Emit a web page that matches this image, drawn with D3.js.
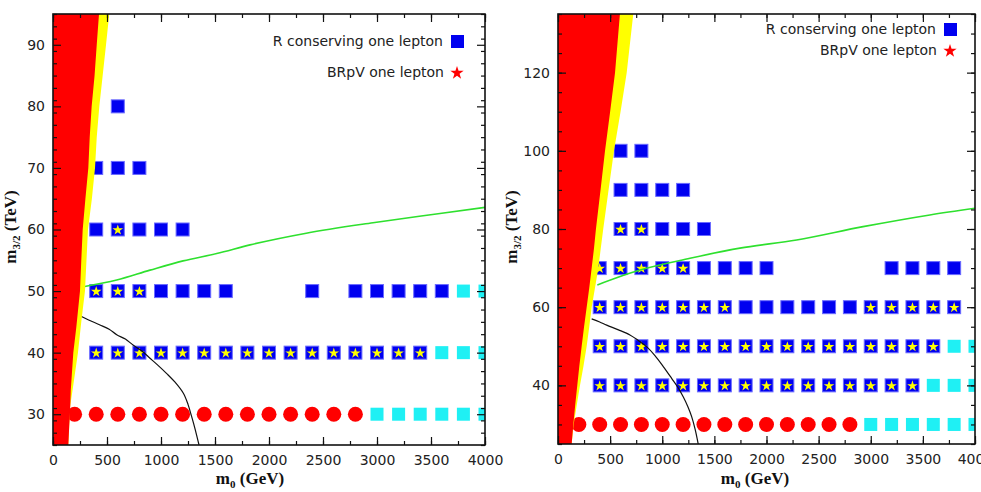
<!DOCTYPE html>
<html>
<head>
<meta charset="utf-8">
<script src="https://cdn.jsdelivr.net/npm/d3@7"></script>
<style>
  body { margin: 0; background: #fff; }
  svg { display: block; }
</style>
</head>
<body>
<svg width="981" height="492"></svg>
<script>
// ---- data: each row is [m3/2 (TeV), list of m0 (GeV)] ----
const xTicks = [0, 500, 1000, 1500, 2000, 2500, 3000, 3500, 4000];

// left panel
const leftYTicks = [30, 40, 50, 60, 70, 80, 90];
const leftBlue = [
    [80, [600]],
    [70, [400, 600, 800]],
    [60, [400, 800, 1000, 1200]],
    [50, [1000, 1200, 1400, 1600, 2400, 2800, 3000, 3200, 3400, 3600]]
];
const leftStar = [
    [60, [600]],
    [50, [400, 600, 800]],
    [40, [400, 600, 800, 1000, 1200, 1400, 1600, 1800, 2000, 2200, 2400, 2600, 2800, 3000, 3200, 3400]]
];
const leftCyan = [
    [50, [3800, 4000]],
    [40, [3600, 3800, 4000]],
    [30, [3000, 3200, 3400, 3600, 3800, 4000]]
];
const leftRed = [
    [30, [200, 400, 600, 800, 1000, 1200, 1400, 1600, 1800, 2000, 2200, 2400, 2600, 2800]]
];
// [m0, m3/2] along the edges and curves
const leftRedEdge = [[142, 25], [150, 28], [157, 30], [165, 34], [188, 40], [215, 44], [250, 50], [262, 55], [275, 60], [300, 65], [327, 70], [340, 75], [358, 80], [385, 85], [405, 90], [426, 95]];
const leftYellowEdge = [[142, 25], [150, 28], [157, 31], [190, 35], [231, 40], [262, 45], [296, 50], [310, 55], [324, 60], [360, 65], [389, 70], [405, 75], [429, 80], [460, 85], [491, 90], [521, 95]];
const leftGreen = [[281, 50.7], [590, 51.8], [898, 53.4], [1204, 54.9], [1516, 56.1], [1824, 57.5], [2345, 59.4], [2963, 61.1], [3583, 62.6], [4000, 63.6]];
const leftBlack = [[259, 45.9], [330, 45.3], [435, 44.5], [520, 43.8], [590, 42.9], [670, 42.2], [744, 41.2], [820, 40.3], [898, 39.1], [975, 37.9], [1053, 36.6], [1130, 35.2], [1207, 33.4], [1250, 31.6], [1284, 29.6], [1320, 27.3], [1352, 25]];

// right panel
const rightYTicks = [40, 60, 80, 100, 120];
const rightBlue = [
    [100, [600, 800]],
    [90, [600, 800, 1000, 1200]],
    [80, [1000, 1200, 1400]],
    [70, [1400, 1600, 1800, 2000, 3200, 3400, 3600, 3800]],
    [60, [1800, 2000, 2200, 2400, 2600, 2800]]
];
const rightStar = [
    [80, [600, 800]],
    [70, [400, 600, 800, 1000, 1200]],
    [60, [400, 600, 800, 1000, 1200, 1400, 1600, 3000, 3200, 3400, 3600, 3800]],
    [50, [400, 600, 800, 1000, 1200, 1400, 1600, 1800, 2000, 2200, 2400, 2600, 2800, 3000, 3200, 3400, 3600]],
    [40, [400, 600, 800, 1000, 1200, 1400, 1600, 1800, 2000, 2200, 2400, 2600, 2800, 3000, 3200, 3400]]
];
const rightCyan = [
    [50, [3800, 4000]],
    [40, [3600, 3800, 4000]],
    [30, [3000, 3200, 3400, 3600, 3800, 4000]]
];
const rightRed = [
    [30, [200, 400, 600, 800, 1000, 1200, 1400, 1600, 1800, 2000, 2200, 2400, 2600, 2800]]
];
const rightRedEdge = [[131, 25], [147, 30], [165, 35], [185, 40], [205, 45], [227, 50], [250, 55], [275, 60], [300, 65], [323, 70], [345, 75], [364, 80], [408, 90], [451, 100], [500, 110], [547, 120], [594, 135]];
const rightYellowEdge = [[131, 25], [150, 30], [180, 35], [211, 40], [245, 45], [275, 50], [300, 55], [323, 60], [355, 65], [387, 70], [410, 75], [434, 80], [485, 90], [537, 100], [600, 110], [659, 120], [722, 135]];
const rightGreen = [[377, 65.7], [786, 69.5], [1266, 72.5], [1745, 75.1], [2289, 77.2], [2927, 80.6], [3567, 83.6], [4000, 85.3]];
const rightBlack = [[323, 57.0], [400, 56.2], [467, 55.4], [580, 54.2], [690, 52.9], [770, 51.5], [850, 49.9], [930, 47.6], [1010, 44.8], [1090, 41.8], [1150, 39.5], [1201, 37.1], [1245, 34.6], [1282, 32.0], [1315, 28.8], [1345, 25]];

// ---- drawing ----
const svg = d3.select("svg");
const defs = svg.append("defs");

const panels = [
    { id: "L", left: 53, right: 485, top: 14, bottom: 445, yDomain: [25, 95], yTicks: leftYTicks, yMinor: 2,
      blue: leftBlue, star: leftStar, cyan: leftCyan, red: leftRed,
      redEdge: leftRedEdge, yellowEdge: leftYellowEdge, green: leftGreen, black: leftBlack,
      legend: { x: 443, y1: 46, y2: 77 }, ylabX: 16, xlabX: 250 },
    { id: "R", left: 558, right: 975, top: 14, bottom: 444, yDomain: [25, 135], yTicks: rightYTicks, yMinor: 5,
      blue: rightBlue, star: rightStar, cyan: rightCyan, red: rightRed,
      redEdge: rightRedEdge, yellowEdge: rightYellowEdge, green: rightGreen, black: rightBlack,
      legend: { x: 936, y1: 34, y2: 55 }, ylabX: 517, xlabX: 755 }
];

const flat = rows => rows.flatMap(([m32, list]) => list.map(m0 => [m0, m32]));
const starSym = R => d3.symbol(d3.symbolStar, R * R / 0.8908130915292852)();

panels.forEach(drawPanel);

function drawPanel(p)
{
    const x = d3.scaleLinear().domain([0, 4000]).range([p.left, p.right]);
    const y = d3.scaleLinear().domain(p.yDomain).range([p.bottom, p.top]);
    const sq = 13;

    defs.append("clipPath").attr("id", "clip" + p.id)
        .append("rect")
        .attr("x", p.left).attr("y", p.top)
        .attr("width", p.right - p.left).attr("height", p.bottom - p.top);

    const plot = svg.append("g").attr("clip-path", `url(#clip${p.id})`);

    // cyan squares
    plot.append("g").selectAll("rect")
        .data(flat(p.cyan))
        .enter().append("rect")
        .attr("x", d => x(d[0]) - sq / 2)
        .attr("y", d => y(d[1]) - sq / 2)
        .attr("width", sq).attr("height", sq)
        .attr("fill", "#1ff0f4");

    // blue squares (plain and with star)
    plot.append("g").selectAll("rect")
        .data(flat(p.blue).concat(flat(p.star)))
        .enter().append("rect")
        .attr("x", d => x(d[0]) - sq / 2)
        .attr("y", d => y(d[1]) - sq / 2)
        .attr("width", sq).attr("height", sq)
        .attr("fill", "#0000f0")
        .attr("stroke", "#6a6aff")
        .attr("stroke-width", 1);

    plot.append("g").selectAll("path")
        .data(flat(p.star))
        .enter().append("path")
        .attr("d", starSym(5.6))
        .attr("transform", d => `translate(${x(d[0])},${y(d[1]) + 0.5})`)
        .attr("fill", "#ffff00");

    // red circles
    plot.append("g").selectAll("circle")
        .data(flat(p.red))
        .enter().append("circle")
        .attr("cx", d => x(d[0]))
        .attr("cy", d => y(d[1]))
        .attr("r", 7.5)
        .attr("fill", "#ff0000");

    // curves
    const line = d3.line().x(d => x(d[0])).y(d => y(d[1]));
    plot.append("path")
        .attr("d", line.curve(d3.curveMonotoneX)(p.green))
        .attr("fill", "none").attr("stroke", "#2ee02e").attr("stroke-width", 1.6);
    plot.append("path")
        .attr("d", d3.line().x(d => x(d[0])).y(d => y(d[1])).curve(d3.curveCatmullRom)(p.black))
        .attr("fill", "none").attr("stroke", "#111").attr("stroke-width", 1.2);

    // excluded regions
    const yMin = p.yDomain[0], yMax = p.yDomain[1];
    const region = edge => line.curve(d3.curveLinear)([[0, yMin - 1], [edge[0][0], yMin - 1]].concat(edge, [[edge[edge.length - 1][0], yMax + 1], [0, yMax + 1]])) + "Z";
    plot.append("path").attr("d", region(p.yellowEdge)).attr("fill", "#ffff00");
    plot.append("path").attr("d", region(p.redEdge)).attr("fill", "#ff0000");

    // axes with inward ticks
    const minorX = d3.range(0, 4001, 250);
    const minorY = d3.range(yMin, yMax + 0.001, p.yMinor);
    const axisStyle = g => {
        g.select(".domain").remove();
        g.selectAll("line").attr("stroke", "#111").attr("stroke-width", 1.2);
        g.selectAll("text").attr("font-family", "DejaVu Sans").attr("font-size", 14).attr("fill", "#222");
    };

    svg.append("g").attr("transform", `translate(0,${p.bottom})`)
        .call(d3.axisBottom(x).tickValues(minorX).tickSize(-4).tickFormat("")).call(axisStyle);
    svg.append("g").attr("transform", `translate(0,${p.bottom})`)
        .call(d3.axisBottom(x).tickValues(xTicks).tickSize(-8).tickPadding(10).tickFormat(d3.format("d"))).call(axisStyle);
    svg.append("g").attr("transform", `translate(0,${p.top})`)
        .call(d3.axisTop(x).tickValues(minorX).tickSize(-4).tickFormat("")).call(axisStyle);
    svg.append("g").attr("transform", `translate(0,${p.top})`)
        .call(d3.axisTop(x).tickValues(xTicks).tickSize(-8).tickFormat("")).call(axisStyle);

    svg.append("g").attr("transform", `translate(${p.left},0)`)
        .call(d3.axisLeft(y).tickValues(minorY).tickSize(-4).tickFormat("")).call(axisStyle);
    svg.append("g").attr("transform", `translate(${p.left},0)`)
        .call(d3.axisLeft(y).tickValues(p.yTicks).tickSize(-8).tickPadding(8).tickFormat(d3.format("d"))).call(axisStyle);
    svg.append("g").attr("transform", `translate(${p.right},0)`)
        .call(d3.axisRight(y).tickValues(minorY).tickSize(-4).tickFormat("")).call(axisStyle);
    svg.append("g").attr("transform", `translate(${p.right},0)`)
        .call(d3.axisRight(y).tickValues(p.yTicks).tickSize(-8).tickFormat("")).call(axisStyle);

    // frame
    svg.append("rect")
        .attr("x", p.left).attr("y", p.top)
        .attr("width", p.right - p.left).attr("height", p.bottom - p.top)
        .attr("fill", "none").attr("stroke", "#111").attr("stroke-width", 1.6);

    // legend
    const lg = svg.append("g").attr("font-family", "DejaVu Sans").attr("font-size", 14).attr("fill", "#222");
    lg.append("text").attr("x", p.legend.x).attr("y", p.legend.y1).attr("text-anchor", "end").text("R conserving one lepton");
    lg.append("rect").attr("x", p.legend.x + 8).attr("y", p.legend.y1 - 11).attr("width", 13).attr("height", 13).attr("fill", "#0000f0");
    lg.append("text").attr("x", p.legend.x + 1).attr("y", p.legend.y2).attr("text-anchor", "end").text("BRpV one lepton");
    lg.append("path").attr("d", starSym(7)).attr("transform", `translate(${p.legend.x + 14},${p.legend.y2 - 4})`).attr("fill", "#ff0000");

    // axis titles
    const xt = svg.append("text")
        .attr("x", p.xlabX).attr("y", 484)
        .attr("text-anchor", "middle")
        .attr("font-family", "Liberation Serif").attr("font-weight", "bold").attr("font-size", 17)
        .attr("fill", "#111");
    xt.append("tspan").text("m");
    xt.append("tspan").attr("font-size", 11).attr("dy", 4).text("0");
    xt.append("tspan").attr("dy", -4).text(" (GeV)");

    const yt = svg.append("text")
        .attr("transform", `translate(${p.ylabX},227) rotate(-90)`)
        .attr("text-anchor", "middle")
        .attr("font-family", "Liberation Serif").attr("font-weight", "bold").attr("font-size", 17)
        .attr("fill", "#111");
    yt.append("tspan").text("m");
    yt.append("tspan").attr("font-size", 11).attr("dy", 4).text("3/2");
    yt.append("tspan").attr("dy", -4).text(" (TeV)");
}
</script>
</body>
</html>
